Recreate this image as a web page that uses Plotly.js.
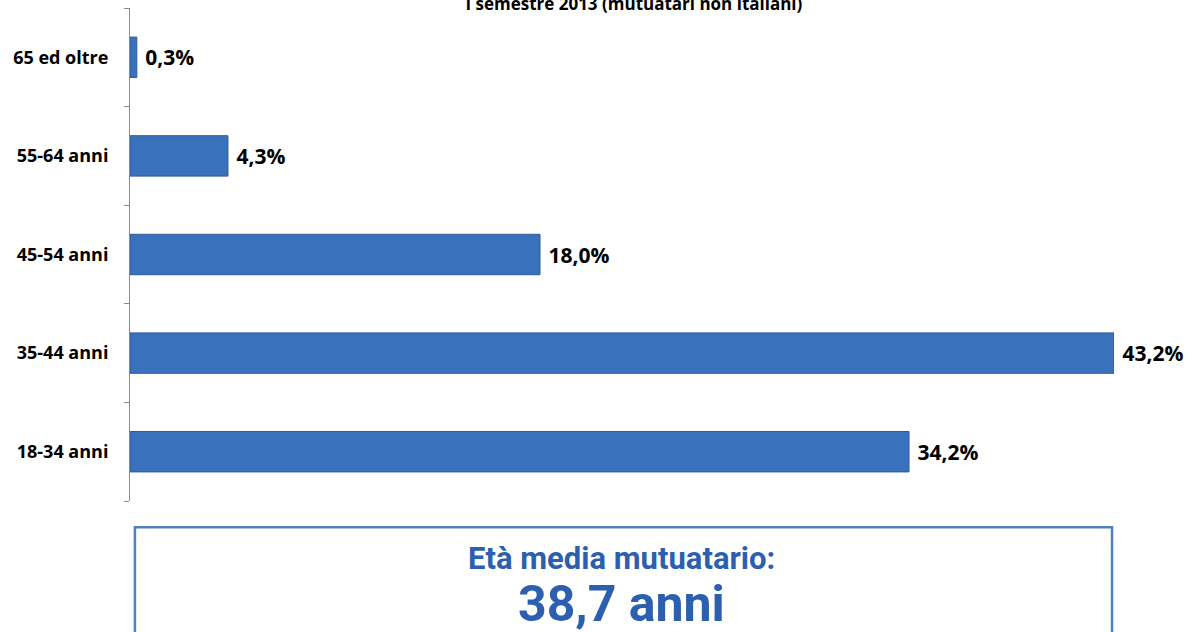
<!DOCTYPE html>
<html>
<head>
<meta charset="utf-8">
<script src="https://cdn.plot.ly/plotly-3.0.1.min.js"></script>
<style>html,body{margin:0;padding:0;background:#fff;}#chart{width:1196px;height:632px;}</style>
</head>
<body>
<div id="chart"></div>
<script>
const categories = ["18-34 anni", "35-44 anni", "45-54 anni", "55-64 anni", "65 ed oltre"];
const shares = [34.2, 43.2, 18.0, 4.3, 0.3];
const chartTitle = "I semestre 2013 (mutuatari non italiani)";
const boxLine1 = "Età media mutuatario:";
const boxLine2 = "38,7 anni";

const labels = shares.map(v => '\u00a0' + v.toFixed(1).replace('.', ',') + '%');

const trace = {
  type: 'bar',
  orientation: 'h',
  y: categories,
  x: shares,
  width: 0.41,
  marker: {color: '#3a71bd', line: {color: '#2d5b9a', width: 1}},
  text: labels,
  textposition: 'outside',
  cliponaxis: false,
  textfont: {family: 'Open Sans, sans-serif', size: 21, color: '#000', weight: 'bold'},
  hoverinfo: 'skip'
};

const layout = {
  width: 1196, height: 632,
  margin: {l: 130, r: 82, t: 8, b: 131},
  paper_bgcolor: '#fff', plot_bgcolor: '#fff',
  showlegend: false,
  title: {
    text: chartTitle,
    font: {family: 'Open Sans, sans-serif', size: 17, color: '#000', weight: 'bold'},
    x: 0.53, xanchor: 'center', xref: 'container',
    y: 1.008, yanchor: 'middle', yref: 'container'
  },
  xaxis: {
    range: [0, 43.2], visible: false, showgrid: false, zeroline: false, fixedrange: true
  },
  yaxis: {
    type: 'category',
    showline: true, linecolor: '#8c8c8c', linewidth: 1,
    ticks: 'outside', tickson: 'boundaries', ticklen: 5, tickcolor: '#8c8c8c',
    ticklabelstandoff: 17,
    showgrid: false, zeroline: false,
    tickfont: {family: 'Open Sans, sans-serif', size: 18, color: '#000', weight: 'bold'}
  },
  bargap: 0.59,
  shapes: [{
    type: 'rect', xref: 'paper', yref: 'paper',
    x0: 0.005, x1: 0.998, y0: -0.053, y1: -0.30,
    line: {color: '#4f81bd', width: 2.5}, fillcolor: 'rgba(0,0,0,0)'
  }],
  annotations: [
    {xref: 'paper', yref: 'paper', x: 0.499, y: -0.116, xanchor: 'center', yanchor: 'middle',
     text: '<b>' + boxLine1 + '</b>', showarrow: false,
     font: {family: 'Roboto, sans-serif', size: 31, color: '#2c5fb0'}},
    {xref: 'paper', yref: 'paper', x: 0.499, y: -0.208, xanchor: 'center', yanchor: 'middle',
     text: '<b>' + boxLine2 + '</b>', showarrow: false,
     font: {family: 'Roboto, sans-serif', size: 50, color: '#2c5fb0'}}
  ]
};

Plotly.newPlot('chart', [trace], layout, {displayModeBar: false, staticPlot: true});
</script>
</body>
</html>
